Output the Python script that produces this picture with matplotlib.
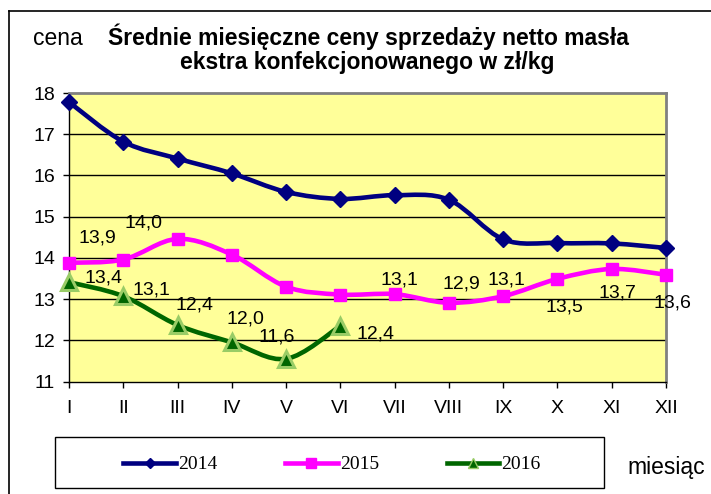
import matplotlib
matplotlib.use('Agg')
import matplotlib.pyplot as plt
from matplotlib.path import Path
from matplotlib.patches import PathPatch, Rectangle
from matplotlib.lines import Line2D

# ---------------- data ----------------
months = ['I', 'II', 'III', 'IV', 'V', 'VI', 'VII', 'VIII', 'IX', 'X', 'XI', 'XII']
prices_2014 = [17.78, 16.82, 16.41, 16.05, 15.60, 15.43, 15.52, 15.41, 14.45, 14.36, 14.35, 14.24]
prices_2015 = [13.88, 13.96, 14.46, 14.08, 13.30, 13.11, 13.12, 12.91, 13.07, 13.49, 13.73, 13.59]
prices_2016 = [13.41, 13.07, 12.37, 11.95, 11.55, 12.35]
series_names = ['2014', '2015', '2016']
labels_2015 = ['13,9', '14,0', None, None, None, None, '13,1', '12,9', '13,1', '13,5', '13,7', '13,6']
labels_2016 = ['13,4', '13,1', '12,4', '12,0', '11,6', '12,4']
y_ticks = [11, 12, 13, 14, 15, 16, 17, 18]

# ---------------- layout ----------------
W, H = 711, 494
DPI = 100
PX = 72.0 / DPI  # points per pixel

# label offsets in pixels (dx right, dy down) relative to the point
off_2015 = [(28, -25), (20, -37), None, None, None, None, (5, -14), (12, -19),
            (3, -16), (7, 28), (6, 24), (6, 28)]
off_2016 = [(34, -4), (28, -6), (17, -20), (14, -23), (-9, -22), (35, 8)]

C14 = '#000080'
C15 = '#FF00FF'
C16 = '#006600'
C16E = '#99CC66'

fig = plt.figure(figsize=(W / DPI, H / DPI), dpi=DPI)
fig.patch.set_facecolor('white')

ax_l, ax_r, ax_t, ax_b = 69, 666, 93, 381.5
ax = fig.add_axes([ax_l / W, 1 - ax_b / H, (ax_r - ax_l) / W, (ax_b - ax_t) / H])
ax.set_facecolor('#FFFF99')
ax.set_xlim(1, 12)
ax.set_ylim(11, 18)
ax.set_yticks(y_ticks)
ax.set_yticklabels([str(v) for v in y_ticks])
ax.set_xticks(range(1, 13))
ax.set_xticklabels(months)
for v in y_ticks[1:-1]:
    ax.axhline(v, color='black', lw=1.0, zorder=1)

for s in ['top', 'right']:
    ax.spines[s].set_color('#808080')
    ax.spines[s].set_linewidth(2.0)
for s in ['left', 'bottom']:
    ax.spines[s].set_color('black')
    ax.spines[s].set_linewidth(1.0)

ax.tick_params(axis='both', direction='out', length=4, width=1, color='black',
               labelsize=14)
ax.tick_params(axis='y', pad=6)
ax.tick_params(axis='x', pad=9)
for t in ax.get_xticklabels() + ax.get_yticklabels():
    t.set_fontfamily('Liberation Sans')


def smooth_path(xs, ys):
    n = len(xs)
    pts = list(zip(xs, ys))
    verts = [pts[0]]
    codes = [Path.MOVETO]
    for i in range(n - 1):
        p0 = pts[i - 1] if i > 0 else pts[i]
        p1 = pts[i]
        p2 = pts[i + 1]
        p3 = pts[i + 2] if i + 2 < n else pts[i + 1]
        c1 = (p1[0] + (p2[0] - p0[0]) / 6.0, p1[1] + (p2[1] - p0[1]) / 6.0)
        c2 = (p2[0] - (p3[0] - p1[0]) / 6.0, p2[1] - (p3[1] - p1[1]) / 6.0)
        verts += [c1, c2, p2]
        codes += [Path.CURVE4] * 3
    return Path(verts, codes)


def draw_series(vals, color, marker, ms, mfc, mec, mew, z):
    xs = list(range(1, len(vals) + 1))
    patch = PathPatch(smooth_path(xs, vals), facecolor='none', edgecolor=color,
                      lw=3.3, zorder=z, capstyle='round', joinstyle='round')
    ax.add_patch(patch)
    ax.plot(xs, vals, linestyle='none', marker=marker, ms=ms, mfc=mfc, mec=mec,
            mew=mew, zorder=z + 0.5, clip_on=False)


draw_series(prices_2014, C14, 'D', 8.5, C14, C14, 1.0, 3)
draw_series(prices_2015, C15, 's', 8.5, C15, C15, 1.0, 4)
draw_series(prices_2016, C16, '^', 12, C16, C16E, 2.2, 5)

lab_kw = dict(textcoords='offset points', ha='center', va='center',
              fontsize=14, fontfamily='Liberation Sans', color='black', zorder=10,
              annotation_clip=False)
for i, (v, lab) in enumerate(zip(prices_2015, labels_2015)):
    if lab is None:
        continue
    dx, dy = off_2015[i]
    ax.annotate(lab, (i + 1, v), xytext=(dx * PX, -dy * PX), **lab_kw)
for i, (v, lab) in enumerate(zip(prices_2016, labels_2016)):
    dx, dy = off_2016[i]
    ax.annotate(lab, (i + 1, v), xytext=(dx * PX, -dy * PX), **lab_kw)

# titles and axis captions
fig.text(33 / W, 1 - 45 / H, 'cena', fontsize=16.5, fontfamily='Liberation Sans',
         ha='left', va='baseline')
fig.text(368.5 / W, 1 - 45 / H, 'Średnie miesięczne ceny sprzedaży netto masła',
         fontsize=16.5, fontweight='bold', fontfamily='Liberation Sans',
         ha='center', va='baseline')
fig.text(367 / W, 1 - 69 / H, 'ekstra konfekcjonowanego w zł/kg',
         fontsize=16.5, fontweight='bold', fontfamily='Liberation Sans',
         ha='center', va='baseline')
fig.text(627 / W, 1 - 474 / H, 'miesiąc', fontsize=16.5, fontfamily='Liberation Sans',
         ha='left', va='baseline')

# outer frame (top & left visible)
fig.add_artist(Line2D([9 / W, 1], [1 - 11 / H, 1 - 11 / H], transform=fig.transFigure,
                      color='black', lw=1.2))
fig.add_artist(Line2D([9 / W, 9 / W], [0, 1 - 11 / H], transform=fig.transFigure,
                      color='black', lw=1.2))

# legend box
fig.add_artist(Rectangle((54.5 / W, 1 - 488 / H), (603.5 - 54.5) / W, (488 - 437) / H,
                         transform=fig.transFigure, facecolor='white',
                         edgecolor='black', lw=1.0))
handles = [
    Line2D([], [], color=C14, lw=3.3, marker='D', ms=5, mfc=C14, mec=C14),
    Line2D([], [], color=C15, lw=3.3, marker='s', ms=7, mfc=C15, mec=C15),
    Line2D([], [], color=C16, lw=3.3, marker='^', ms=7, mfc=C16, mec=C16E, mew=1),
]
leg = fig.legend(handles, series_names, loc='center',
                 bbox_to_anchor=(332 / W, 1 - 464.5 / H), ncol=3, frameon=False,
                 prop={'family': 'Liberation Serif', 'size': 14},
                 handlelength=2.7, handletextpad=0.1, columnspacing=3.5,
                 borderpad=0, borderaxespad=0)

fig.savefig('out.png', dpi=DPI)
